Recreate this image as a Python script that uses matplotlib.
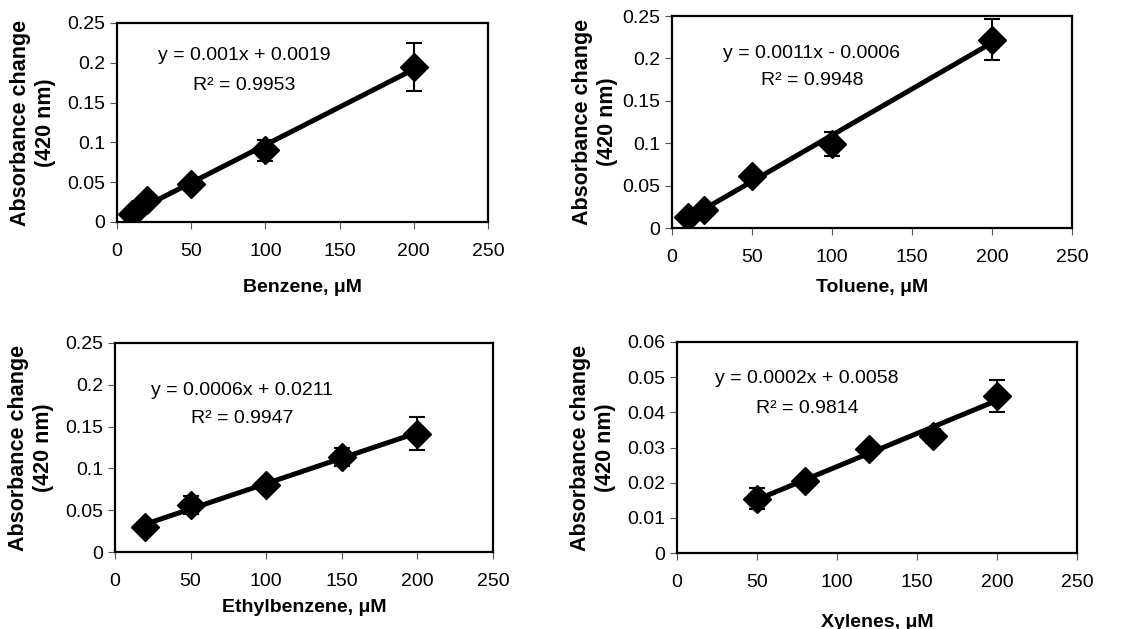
import numpy as np
from matplotlib import pyplot as plt

plt.rcParams['font.family'] = ['Liberation Sans', 'DejaVu Sans']

# benzene
benz_x = [10, 20, 50, 100, 200]
benz_y = [0.010, 0.027, 0.048, 0.090, 0.195]
benz_err = [0.003, 0.005, 0.004, 0.013, 0.030]

# toluene
tol_x = [10, 20, 50, 100, 200]
tol_y = [0.013, 0.021, 0.061, 0.0995, 0.222]
tol_err = [0.005, 0.003, 0.004, 0.014, 0.024]

# ethylbenzene
eth_x = [20, 50, 100, 150, 200]
eth_y = [0.030, 0.056, 0.080, 0.114, 0.1415]
eth_err = [0.002, 0.011, 0.003, 0.011, 0.020]

# xylenes
xyl_x = [50, 80, 120, 160, 200]
xyl_y = [0.0154, 0.0206, 0.0295, 0.0334, 0.0447]
xyl_err = [0.003, 0.001, 0.001, 0.002, 0.0045]

labels = ['Benzene, μM', 'Toluene, μM', 'Ethylbenzene, μM', 'Xylenes, μM']
equations = ['y = 0.001x + 0.0019', 'y = 0.0011x - 0.0006',
             'y = 0.0006x + 0.0211', 'y = 0.0002x + 0.0058']
r2 = ['R² = 0.9953', 'R² = 0.9948', 'R² = 0.9947', 'R² = 0.9814']
yticks = [np.arange(0, 0.251, 0.05)] * 3 + [np.arange(0, 0.061, 0.01)]
ytick_labels = [['0', '0.05', '0.1', '0.15', '0.2', '0.25']] * 3 + \
               [['0', '0.01', '0.02', '0.03', '0.04', '0.05', '0.06']]

# axes boxes in figure fractions: left, bottom, width, height
boxes = [[0.1022, 0.6471, 0.3240, 0.3164],
         [0.5869, 0.6375, 0.3493, 0.3370],
         [0.1004, 0.1224, 0.3301, 0.3323],
         [0.5913, 0.1208, 0.3493, 0.3355]]
text_pos = [(0.342, 0.839, 0.688), (0.35, 0.825, 0.698),
            (0.336, 0.775, 0.641), (0.325, 0.829, 0.687)]
xlabel_y = [-0.286, -0.241, -0.225, -0.289]
ylabel_pad = [8, 3, 8, 8]

data = [(benz_x, benz_y, benz_err), (tol_x, tol_y, tol_err),
        (eth_x, eth_y, eth_err), (xyl_x, xyl_y, xyl_err)]

fig = plt.figure(figsize=(11.45, 6.29), dpi=100)

for i in range(4):
    x, y, err = data[i]
    ax = fig.add_axes(boxes[i])
    ax.errorbar(x, y, yerr=err, fmt='none', ecolor='black', elinewidth=1.5,
                capsize=5.5, capthick=1.5, zorder=2)
    k, b = np.polyfit(x, y, 1)
    xs = np.array([min(x), max(x)])
    ax.plot(xs, k * xs + b, color='black', lw=3.6, zorder=3)
    ax.plot(x, y, 'D', color='black', ms=14, zorder=4)

    ax.set_xlim(0, 250)
    ax.set_xticks(range(0, 251, 50))
    ax.set_ylim(yticks[i][0], yticks[i][-1])
    ax.set_yticks(yticks[i])
    ax.set_yticklabels(ytick_labels[i])
    ax.tick_params(direction='out', length=5, width=0.8, color='#555555',
                   labelsize=14)
    ax.tick_params(axis='x', pad=10)
    for s in ax.spines.values():
        s.set_linewidth(1.6)

    ax.set_xlabel(labels[i], fontsize=14, fontweight='bold')
    ax.xaxis.set_label_coords(0.5, xlabel_y[i])
    ax.set_ylabel('Absorbance change\n(420 nm)', fontsize=15.5,
                  fontweight='bold', labelpad=ylabel_pad[i], linespacing=1.25)

    tx, ty1, ty2 = text_pos[i]
    ax.text(tx, ty1, equations[i], transform=ax.transAxes, ha='center',
            va='center', fontsize=14)
    ax.text(tx, ty2, r2[i], transform=ax.transAxes, ha='center',
            va='center', fontsize=14)

fig.savefig('out.png', dpi=100)
